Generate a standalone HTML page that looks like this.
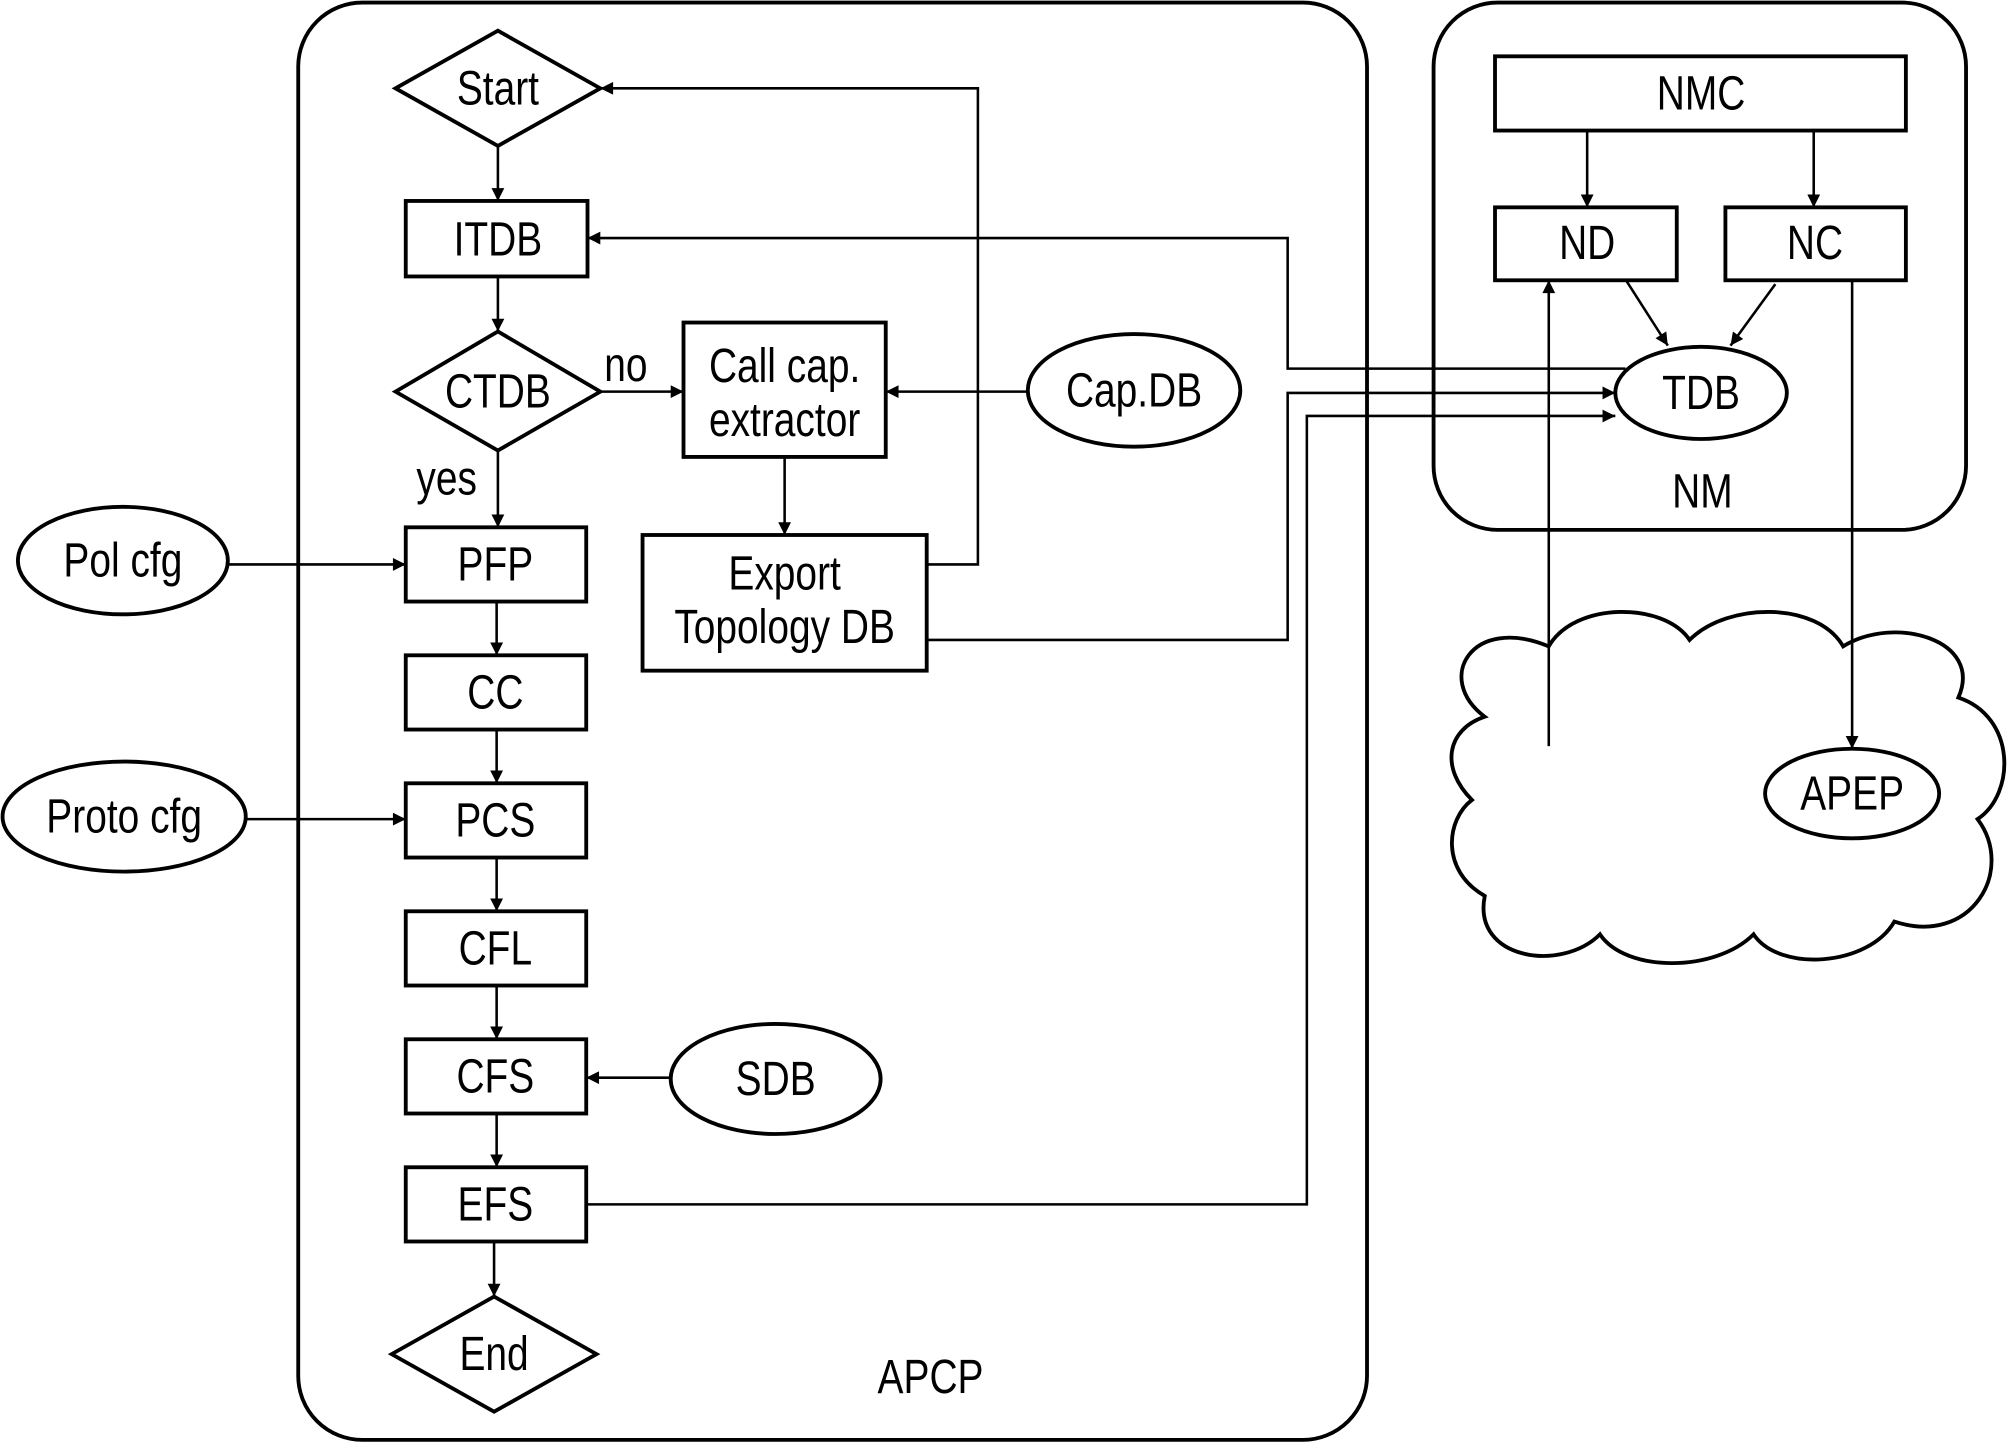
<!DOCTYPE html>
<html><head><meta charset="utf-8"><style>
html,body{margin:0;padding:0;background:#fff;}
svg{display:block}
text{font-family:"Liberation Sans Narrow","Liberation Sans",sans-serif;font-size:38px;fill:#000;text-anchor:middle;dominant-baseline:central;transform-box:fill-box;transform-origin:center;transform:scaleX(0.8)}
</style></head><body>
<svg width="2007" height="1445" viewBox="0 0 1568 1129" preserveAspectRatio="none" xmlns="http://www.w3.org/2000/svg">
<defs><marker id="a" viewBox="0 0 10 10" refX="10" refY="5" markerWidth="14" markerHeight="10" markerUnits="userSpaceOnUse" orient="auto"><path d="M0,0L10,5L0,10z" fill="#000"/></marker></defs>
<g fill="none" stroke="#000" stroke-width="3">
<rect x="233" y="2" width="835" height="1123" rx="50"/>
<rect x="1120" y="2" width="416" height="412" rx="50"/>
<polygon points="309,69 389,24 469,69 389,114"/>
<polygon points="309,306 389,259 469,306 389,352"/>
<polygon points="306,1058 386,1013 466,1058 386,1103"/>
<rect x="317" y="157" width="142" height="59"/>
<rect x="317" y="412" width="141" height="58"/>
<rect x="317" y="512" width="141" height="58"/>
<rect x="317" y="612" width="141" height="58"/>
<rect x="317" y="712" width="141" height="58"/>
<rect x="317" y="812" width="141" height="58"/>
<rect x="317" y="912" width="141" height="58"/>
<rect x="534" y="252" width="158" height="105"/>
<rect x="502" y="418" width="222" height="106"/>
<ellipse cx="886" cy="305" rx="83" ry="44"/>
<ellipse cx="96" cy="438" rx="82" ry="42"/>
<ellipse cx="97" cy="638" rx="95" ry="43"/>
<ellipse cx="606" cy="843" rx="82" ry="43"/>
<rect x="1168" y="44" width="321" height="58"/>
<rect x="1168" y="162" width="142" height="57"/>
<rect x="1348" y="162" width="141" height="57"/>
<ellipse cx="1329" cy="307" rx="67" ry="36"/>
<path d="M1160,560 C1120,530 1150,480 1210,505 C1230,470 1300,470 1320,500 C1350,470 1420,470 1440,505 C1480,480 1550,500 1530,545 C1575,560 1575,620 1545,640 C1575,680 1540,740 1480,720 C1460,755 1390,760 1370,730 C1340,760 1270,760 1250,730 C1220,760 1150,750 1160,700 C1125,680 1130,640 1150,625 C1125,600 1130,570 1160,560 Z"/>
<ellipse cx="1447" cy="620" rx="68" ry="35"/>
</g>
<g fill="none" stroke="#000" stroke-width="2">
<path d="M389,114V157" marker-end="url(#a)"/>
<path d="M389,216V259" marker-end="url(#a)"/>
<path d="M389,352V412" marker-end="url(#a)"/>
<path d="M469,306H534" marker-end="url(#a)"/>
<path d="M803,306H692" marker-end="url(#a)"/>
<path d="M613,357V418" marker-end="url(#a)"/>
<path d="M724,441H764V69H469" marker-end="url(#a)"/>
<path d="M724,500H1006V307H1262" marker-end="url(#a)"/>
<path d="M1270,288H1006V186H459" marker-end="url(#a)"/>
<path d="M458,941H1021V325H1262" marker-end="url(#a)"/>
<path d="M178,441H317" marker-end="url(#a)"/>
<path d="M192,640H317" marker-end="url(#a)"/>
<path d="M388,470V512" marker-end="url(#a)"/>
<path d="M388,570V612" marker-end="url(#a)"/>
<path d="M388,670V712" marker-end="url(#a)"/>
<path d="M388,770V812" marker-end="url(#a)"/>
<path d="M388,870V912" marker-end="url(#a)"/>
<path d="M386,970V1013" marker-end="url(#a)"/>
<path d="M524,842H458" marker-end="url(#a)"/>
<path d="M1240,102V162" marker-end="url(#a)"/>
<path d="M1417,102V162" marker-end="url(#a)"/>
<path d="M1271,220L1303,270" marker-end="url(#a)"/>
<path d="M1387,222L1352,270" marker-end="url(#a)"/>
<path d="M1210,583V219" marker-end="url(#a)"/>
<path d="M1447,219V585" marker-end="url(#a)"/>
</g>
<text x="389" y="69">Start</text>
<text x="389" y="187">ITDB</text>
<text x="389" y="306">CTDB</text>
<text x="489" y="285">no</text>
<text x="349" y="374">yes</text>
<text x="387" y="441">PFP</text>
<text x="387" y="541">CC</text>
<text x="387" y="641">PCS</text>
<text x="387" y="741">CFL</text>
<text x="387" y="841">CFS</text>
<text x="387" y="941">EFS</text>
<text x="386" y="1058">End</text>
<text x="613" y="286">Call cap.</text>
<text x="613" y="328">extractor</text>
<text x="613" y="448">Export</text>
<text x="613" y="490">Topology DB</text>
<text x="886" y="305">Cap.DB</text>
<text x="96" y="438">Pol cfg</text>
<text x="97" y="638">Proto cfg</text>
<text x="606" y="843">SDB</text>
<text x="727" y="1076">APCP</text>
<text x="1329" y="73">NMC</text>
<text x="1240" y="190">ND</text>
<text x="1418" y="190">NC</text>
<text x="1329" y="307">TDB</text>
<text x="1330" y="384">NM</text>
<text x="1447" y="620">APEP</text>
</svg>
</body></html>
